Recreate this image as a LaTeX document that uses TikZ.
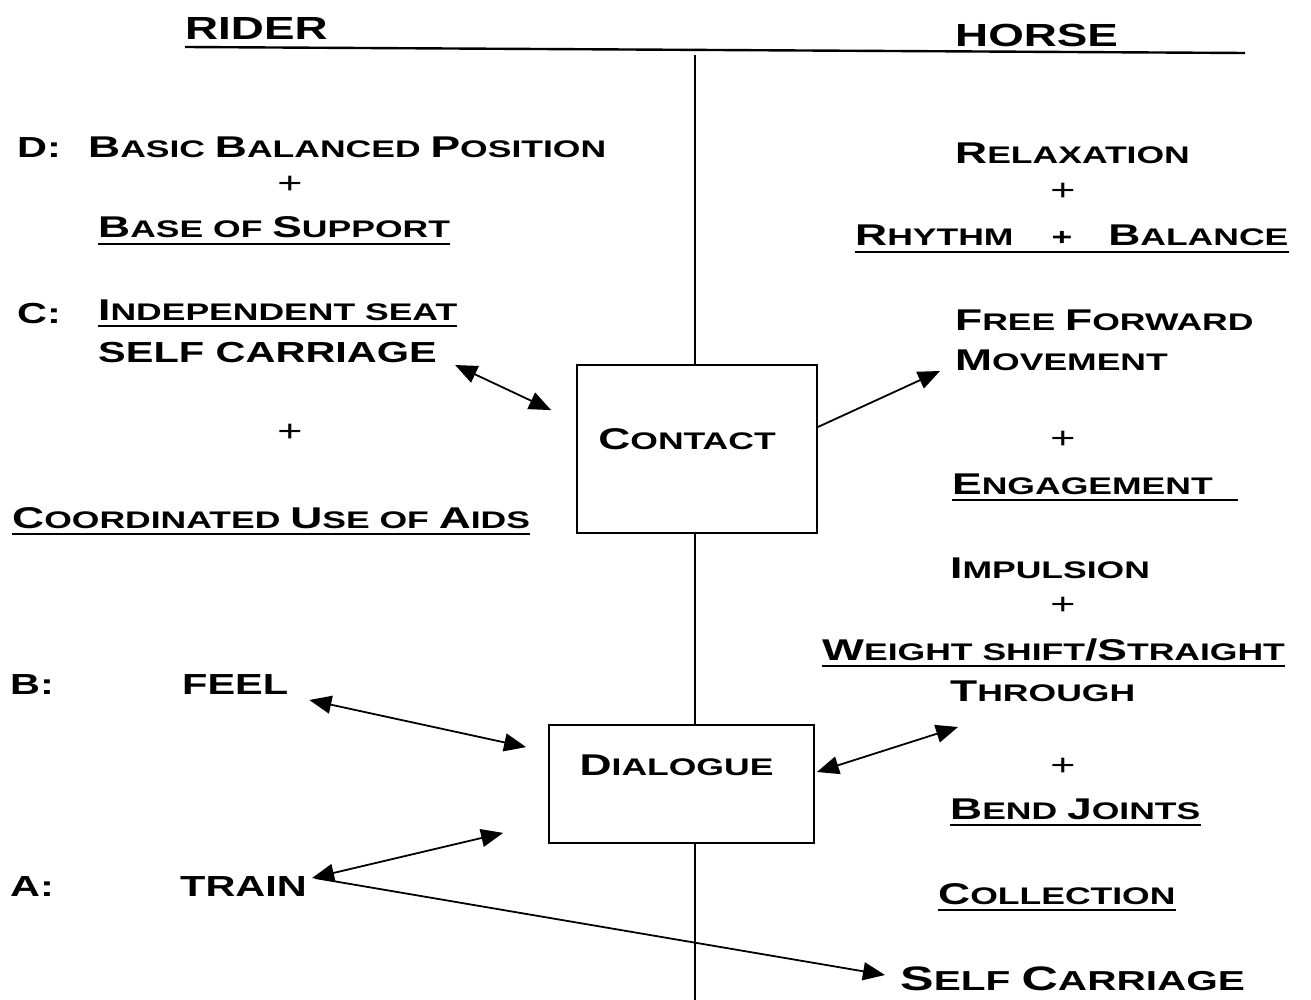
\documentclass[tikz,border=0pt]{standalone}
\usepackage{fontspec}
\setmainfont{Liberation Sans}
\newfontfamily\cpfont{Liberation Sans}[FakeStretch=1.48]
\newfontfamily\arfont{Liberation Sans}[FakeStretch=1.43]
\usetikzlibrary{arrows.meta,calc}

% engraved-caps look: large initial capitals, smaller capitals after
\newcommand\Bg{\fontsize{30}{34}\selectfont}
\newcommand\Sm{\fontsize{24}{34}\selectfont}
\newcommand\BgL{\fontsize{34}{38}\selectfont}
\newcommand\SmL{\fontsize{27.4}{38}\selectfont}

\tikzset{
  cp/.style={inner sep=0pt, anchor=base west, font=\cpfont\bfseries},
  ar/.style={inner sep=0pt, anchor=base west, font=\arfont\bfseries\fontsize{29}{32}\selectfont},
  hd/.style={inner sep=0pt, anchor=base west, font=\arfont\bfseries\fontsize{32}{36}\selectfont},
  plus/.style={inner sep=0pt, anchor=center, font=\arfont\fontsize{30}{32}\selectfont},
  ulst/.style={line width=2.4pt},
  box/.style={draw, line width=1.8pt, inner sep=0pt},
  link/.style={line width=1.8pt},
  >={Triangle[length=22pt,width=18pt]},
}
\newcommand\ul[2][0]{\draw[ulst] ($(#2.base west)+(0,6)$) -- ($(#2.base east)+(#1,6)$);}

\begin{document}
\begin{tikzpicture}[x=1pt,y=-1pt]
\useasboundingbox[fill=white] (0,0) rectangle (1311,1000);

% headers and dividing lines
\node[hd] (rider) at (185,40) {RIDER};
\node[hd] (horse) at (955,47) {HORSE};
\coordinate (tr) at (1245,53);
\draw[line width=2.4pt] ($(rider.base west)+(0,7)$) -- (tr);

% central boxes
\node[box, minimum width=240pt, minimum height=168pt,
      label={[cp, xshift=-10pt, yshift=10pt]center:{\Bg C\Sm ONTACT}}] (contact) at (697,449) {};
\node[box, minimum width=265pt, minimum height=118pt,
      label={[cp, xshift=-5pt, yshift=19pt]center:{\Bg D\Sm IALOGUE}}] (dialogue) at (681.5,784) {};

\coordinate (vt) at (695,55);
\coordinate (vb) at (695,1000);
\draw[line width=1.5pt] (vt) -- (vt |- contact.north);
\draw[line width=1.5pt] (vt |- contact.south) -- (vt |- dialogue.north);
\draw[line width=1.5pt] (vt |- dialogue.south) -- (vb);

% rider column
\node[ar] (dl) at (17,158) {D:};
\node[cp] (basic) at (88,158) {\Bg B\Sm ASIC \Bg B\Sm ALANCED \Bg P\Sm OSITION};
\node[plus] (p1) at (290,185) {+};
\node[cp] (base) at (98,238) {\Bg B\Sm ASE OF \Bg S\Sm UPPORT};
\ul{base}

\node[ar] (cl) at (17,323) {C:};
\node[cp] (indep) at (98,320) {\Bg I\Sm NDEPENDENT SEAT};
\ul{indep}
\node[ar] (selfc) at (98,362) {SELF CARRIAGE};
\node[plus] (p2) at (290,433) {+};
\node[cp] (coord) at (12,528) {\Bg C\Sm OORDINATED \Bg U\Sm SE OF \Bg A\Sm IDS};
\ul{coord}

\node[ar] (bl) at (10,694) {B:};
\node[ar] (feel) at (182,694) {FEEL};
\node[ar] (al) at (10,896) {A:};
\node[ar] (train) at (180,896) {TRAIN};

% horse column
\node[cp] (relax) at (955,164) {\Bg R\Sm ELAXATION};
\node[plus] (p3) at (1063,192) {+};
\node[cp] (rhythm) at (855,246) {\Bg R\Sm HYTHM\hspace{38pt}+\hspace{36pt}\Bg B\Sm ALANCE};
\ul{rhythm}
\node[cp] (free) at (955,330) {\Bg F\Sm REE \Bg F\Sm ORWARD};
\node[cp] (move) at (955,370) {\Bg M\Sm OVEMENT};
\node[plus] (p4) at (1063,440) {+};
\node[cp] (engage) at (952,494) {\Bg E\Sm NGAGEMENT};
\ul[25]{engage}
\node[cp] (impuls) at (950,578) {\Bg I\Sm MPULSION};
\node[plus] (p5) at (1063,606) {+};
\node[cp] (weight) at (822,660) {\Bg W\Sm EIGHT SHIFT\Bg/S\Sm TRAIGHT};
\ul{weight}
\node[cp] (through) at (950,701) {\Bg T\Sm HROUGH};
\node[plus] (p6) at (1063,767) {+};
\node[cp] (bend) at (950,819) {\Bg B\Sm END \Bg J\Sm OINTS};
\ul{bend}
\node[cp] (collect) at (938,904) {\Bg C\Sm OLLECTION};
\ul{collect}
\node[cp] (selfh) at (900,990) {\BgL S\SmL ELF \BgL C\SmL ARRIAGE};

% connectors
\draw[link, <->] ($(selfc.base east)+(18,3)$) -- ($(contact.north west)+(-25,46)$);
\draw[link, ->] ($(contact.east)+(0,-22)$) -- ($(move.base west)+(-15,1)$);
\draw[link, <->] ($(feel.base east)+(21,6)$) -- ($(dialogue.north west)+(-22,23)$);
\draw[link, <->] ($(train.base east)+(5,-18)$) -- ($(dialogue.south west)+(-45,-11)$);
\draw[link, ->] ($(train.base east)+(8,-18)$) -- ($(selfh.base west)+(-15,-15)$);
\draw[link, <->] ($(dialogue.east)+(2,-12)$) -- ($(through.base west)+(8,26)$);
\end{tikzpicture}
\end{document}
